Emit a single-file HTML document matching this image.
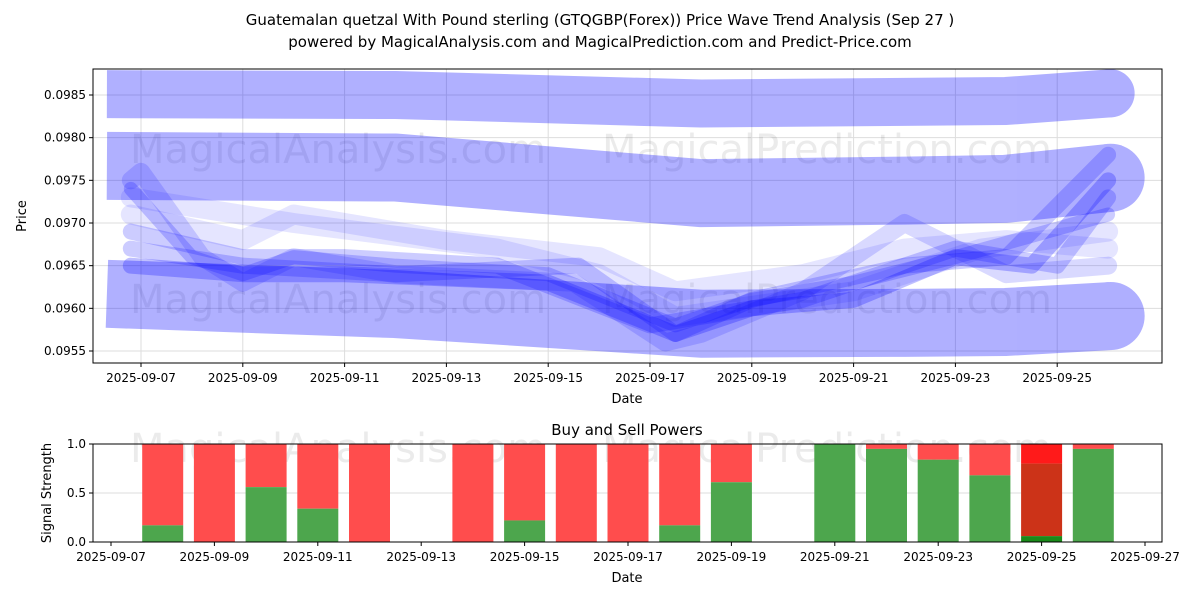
<!DOCTYPE html>
<html><head><meta charset="utf-8"><style>
body{margin:0;background:#fff;}
svg{display:block;font-family:"DejaVu Sans","Liberation Sans",sans-serif;}
</style></head><body>
<svg id="chart" width="1200" height="600" viewBox="0 0 1200 600">
<text x="600" y="25" text-anchor="middle" font-size="15">Guatemalan quetzal With Pound sterling (GTQGBP(Forex)) Price Wave Trend Analysis (Sep 27 )</text>
<text x="600" y="47" text-anchor="middle" font-size="15">powered by MagicalAnalysis.com and MagicalPrediction.com and Predict-Price.com</text>
<g id="topPanel"></g>
<g id="botPanel"></g>
</svg>
<script>
// ---- price panel data ----
const bandDays = [6.33, 12, 18, 22, 24, 26.05];
const bandA = [0.09851, 0.09850, 0.09840, 0.09842, 0.09843, 0.09852];
const bandB = [0.09767, 0.09765, 0.09735, 0.09738, 0.09740, 0.09753];
const bandC = [0.09617, 0.09605, 0.09582, 0.09583, 0.09584, 0.09591];
const thinLines = [
 {d:[6.8,9,11,15,17.5,19,21,23,24.5,26], v:[0.0965,0.0964,0.0964,0.0963,0.0957,0.0960,0.0961,0.0966,0.0965,0.0975], w:16, o:0.25},
 {d:[6.8,8,9,10,12,15,17.5,19,21,23,26], v:[0.0974,0.0966,0.0964,0.0966,0.0965,0.0964,0.0958,0.0961,0.0963,0.0966,0.0971], w:14, o:0.2},
 {d:[6.8,7,8.2,9,10,12,15.5,17.3,18,20,22,24,26], v:[0.0975,0.0976,0.0966,0.0963,0.0966,0.0964,0.0963,0.0956,0.0957,0.0962,0.0970,0.0964,0.0965], w:18, o:0.15},
 {d:[6.8,9,10,13,16,17.5,20,22,24,26], v:[0.0971,0.0968,0.0971,0.0968,0.0966,0.0962,0.0964,0.0967,0.0968,0.0967], w:20, o:0.1},
 {d:[6.8,10,14,16,17.5,21,23.5,26], v:[0.0973,0.0970,0.0967,0.0964,0.0959,0.0962,0.0967,0.0969], w:20, o:0.1},
 {d:[6.8,9,12,15.6,17.5,19,22,24,26], v:[0.0967,0.0965,0.0964,0.0965,0.0957,0.0961,0.0965,0.0966,0.0978], w:16, o:0.2},
 {d:[6.8,9,11,14,17,20,23,25,26], v:[0.0969,0.0966,0.0966,0.0965,0.0958,0.0961,0.0967,0.0965,0.0973], w:16, o:0.2}
];
const yTicks = [0.0955,0.0960,0.0965,0.0970,0.0975,0.0980,0.0985];
const xTickDays = [7,9,11,13,15,17,19,21,23,25];
// ---- signal panel data ----
const sigDays = [8,9,10,11,12,14,15,16,17,18,19,21,22,23,24,25,26];
const buyVals = [0.17,0,0.56,0.34,0,0,0.22,0,0,0.17,0.61,1.0,0.95,0.84,0.68,0.06,0.95];
const midVals = [0,0,0,0,0,0,0,0,0,0,0,0,0,0,0,0.80,0];
const sigYTicks = [0,0.5,1.0];
const sigXTickDays = [7,9,11,13,15,17,19,21,23,25,27];

const NS="http://www.w3.org/2000/svg";
function mk(tag,attrs,parent){const e=document.createElementNS(NS,tag);for(const k in attrs)e.setAttribute(k,attrs[k]);parent.appendChild(e);return e;}
const topG=document.getElementById('topPanel'), botG=document.getElementById('botPanel');
const X=d=>141+(d-7)*50.9;
const Y=v=>95+(0.0985-v)*85333;
yTicks.forEach(t=>{const l=mk('line',{x1:93,x2:1162,y1:Y(t),y2:Y(t),stroke:'#ddd','stroke-width':1},topG);

});
xTickDays.forEach(t=>{const l=mk('line',{x1:X(t),x2:X(t),y1:69,y2:363,stroke:'#ddd','stroke-width':1},topG);

});
[[130,163,'MagicalAnalysis.com'],[602,163,'MagicalPrediction.com'],[130,313,'MagicalAnalysis.com'],[602,313,'MagicalPrediction.com']].forEach(w=>{
 const t=mk('text',{x:w[0],y:w[1],'font-size':40,fill:'#000','fill-opacity':0.08},topG);t.textContent=w[2];
 
 });
const clip=mk('clipPath',{id:'c1'},topG);mk('rect',{x:93,y:69,width:1069,height:294},clip);
const g=mk('g',{'clip-path':'url(#c1)'},topG);
function band(vals,w,name){
 const bg=mk('g',{opacity:0.31},g);
 
 
 const pts=bandDays.map((d,i)=>X(d)+','+Y(vals[i])).join(' ');
 mk('polyline',{points:pts,fill:'none',stroke:'#0000ff','stroke-width':w,'stroke-linejoin':'round'},bg);
 mk('circle',{cx:X(bandDays[bandDays.length-1]),cy:Y(vals[vals.length-1]),r:w/2,fill:'#0000ff'},bg);
}
band(bandA,48,'upper-band');band(bandB,68,'middle-band');band(bandC,68,'lower-band');
thinLines.forEach(L=>{
 const pts=L.d.map((d,i)=>X(d)+','+Y(L.v[i])).join(' ');
 const p=mk('polyline',{points:pts,fill:'none',stroke:'#0000ff','stroke-opacity':L.o,'stroke-width':L.w,'stroke-linejoin':'round','stroke-linecap':'round'},g);
 
 
});
const fr=mk('rect',{x:93,y:69,width:1069,height:294,fill:'none',stroke:'#000','stroke-width':1},topG);


yTicks.forEach(t=>{mk('line',{x1:89,x2:93,y1:Y(t),y2:Y(t),stroke:'#000'},topG);
 const tx=mk('text',{x:86,y:Y(t)+4,'text-anchor':'end','font-size':12},topG);tx.textContent=t.toFixed(4);
 
 });
xTickDays.forEach(t=>{mk('line',{x1:X(t),x2:X(t),y1:363,y2:367,stroke:'#000'},topG);
 const tx=mk('text',{x:X(t),y:382,'text-anchor':'middle','font-size':12},topG);tx.textContent='2025-09-'+String(t).padStart(2,'0');
 
 });
let t1=mk('text',{x:627,y:403,'text-anchor':'middle','font-size':13},topG);t1.textContent='Date';


let t2=mk('text',{x:26,y:216,'text-anchor':'middle','font-size':13,transform:'rotate(-90 26 216)'},topG);t2.textContent='Price';



// ---- bottom ----
const X2=d=>111+(d-7)*51.7;
const Y2=v=>542-v*98;
sigYTicks.forEach(t=>{const l=mk('line',{x1:93,x2:1162,y1:Y2(t),y2:Y2(t),stroke:'#ddd'},botG);
 
 });
[[130,462,'MagicalAnalysis.com'],[602,462,'MagicalPrediction.com']].forEach(w=>{
 const t=mk('text',{x:w[0],y:w[1],'font-size':40,fill:'#000','fill-opacity':0.08},botG);t.textContent=w[2];
 
 });
sigDays.forEach((d,i)=>{
 const cx=X2(d),w=41,b=buyVals[i],m=midVals[i];
 if(m>0){
  const s=mk('rect',{x:cx-w/2,y:Y2(1),width:w,height:Y2(m)-Y2(1),fill:'#ff1a1a'},botG);
  
  
  const r=mk('rect',{x:cx-w/2,y:Y2(m),width:w,height:Y2(b)-Y2(m),fill:'#cc3318'},botG);
  
  
  const bb=mk('rect',{x:cx-w/2,y:Y2(b),width:w,height:Y2(0)-Y2(b),fill:'#1a8a1a'},botG);
  
  
 } else {
  const s=mk('rect',{x:cx-w/2,y:Y2(1),width:w,height:Y2(b)-Y2(1),fill:'#ff4d4d'},botG);
  
  
  const bb=mk('rect',{x:cx-w/2,y:Y2(b),width:w,height:Y2(0)-Y2(b),fill:'#4da64d'},botG);
  
  
 }
});
const fr2=mk('rect',{x:93,y:444,width:1069,height:98,fill:'none',stroke:'#000'},botG);


sigYTicks.forEach(t=>{mk('line',{x1:89,x2:93,y1:Y2(t),y2:Y2(t),stroke:'#000'},botG);
 const tx=mk('text',{x:86,y:Y2(t)+4,'text-anchor':'end','font-size':12},botG);tx.textContent=t.toFixed(1);
 
 });
sigXTickDays.forEach(t=>{mk('line',{x1:X2(t),x2:X2(t),y1:542,y2:546,stroke:'#000'},botG);
 const tx=mk('text',{x:X2(t),y:561,'text-anchor':'middle','font-size':12},botG);tx.textContent='2025-09-'+String(t).padStart(2,'0');
 
 });
let t3=mk('text',{x:627,y:582,'text-anchor':'middle','font-size':13},botG);t3.textContent='Date';


let t4=mk('text',{x:51,y:493,'text-anchor':'middle','font-size':13,transform:'rotate(-90 51 493)'},botG);t4.textContent='Signal Strength';


let t5=mk('text',{x:627,y:435,'text-anchor':'middle','font-size':15},botG);t5.textContent='Buy and Sell Powers';


</script>
</body></html>
